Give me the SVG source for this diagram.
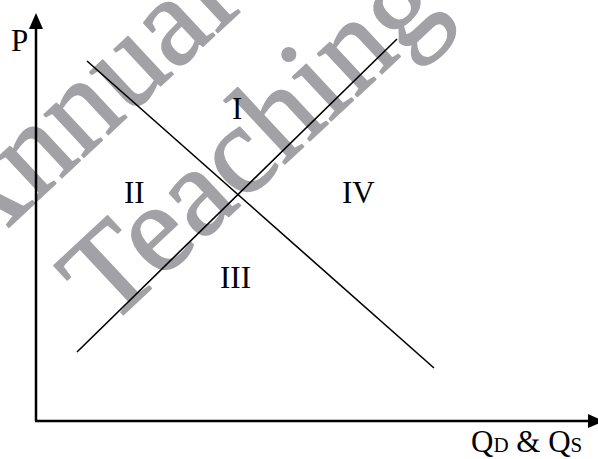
<svg xmlns="http://www.w3.org/2000/svg" width="598" height="459" viewBox="0 0 598 459">
  <style>
    .wm { font-family: "Liberation Serif", "Times New Roman", serif; font-size: 127px; }
    .wm-out { fill: #ffffff; stroke: #ffffff; stroke-width: 5; stroke-linejoin: round; }
    .wm-in { fill: #a2a2a6; stroke: #a2a2a6; stroke-width: 1.6; stroke-linejoin: round; }
    .lbl { font-family: "Liberation Serif", "Times New Roman", serif; font-size: 31px; fill: #000000; }
    .axis { stroke: #000000; stroke-width: 2.5; fill: none; }
    .curve { stroke: #000000; stroke-width: 1.6; fill: none; }
    .head { fill: #000000; stroke: none; }
  </style>
  <rect width="598" height="459" fill="#ffffff"/>
  <g id="watermark" transform="translate(109,328) rotate(-43)">
    <text class="wm wm-out" x="-60" y="-142">Annual</text>
    <text class="wm wm-out" x="0" y="0">Teaching</text>
    <text class="wm wm-in" x="-60" y="-142">Annual</text>
    <text class="wm wm-in" x="0" y="0">Teaching</text>
  </g>
  <g id="axes">
    <line class="axis" x1="36" y1="421" x2="36" y2="26"/>
    <polygon class="head" points="36,13 29,29 43,29"/>
    <line class="axis" x1="35" y1="421" x2="589" y2="421"/>
    <polygon class="head" points="604,421 588,414 588,428"/>
  </g>
  <g id="connectors">
    <line id="demand" class="curve" x1="87" y1="61" x2="434" y2="368"/>
    <line id="supply" class="curve" x1="77" y1="352" x2="397" y2="39"/>
  </g>
  <g id="label-P"><text class="lbl" x="11" y="51" font-size="29">P</text></g>
  <g id="label-I"><text class="lbl" x="232" y="119">I</text></g>
  <g id="label-II"><text class="lbl" x="124" y="203">II</text></g>
  <g id="label-IV"><text class="lbl" x="342" y="203">IV</text></g>
  <g id="label-III"><text class="lbl" x="220" y="288">III</text></g>
  <g id="label-Q"><text class="lbl" x="471" y="452">Q<tspan font-size="21">D</tspan> &amp; Q<tspan font-size="21">S</tspan></text></g>
</svg>
